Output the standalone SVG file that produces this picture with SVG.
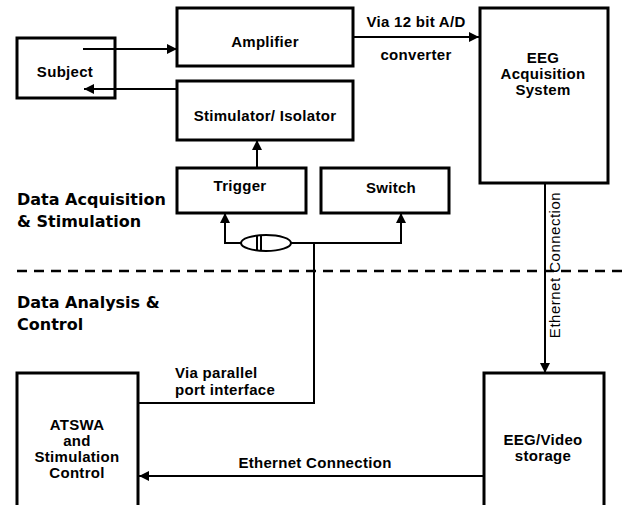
<svg xmlns="http://www.w3.org/2000/svg" width="622" height="505" viewBox="0 0 622 505">
<style>
.box{fill:none;stroke:#000;stroke-width:3}
.ln{fill:none;stroke:#000;stroke-width:2}
.t{font-family:"Liberation Sans",Arial,sans-serif;font-weight:bold;font-size:15px;letter-spacing:0.3px;fill:#000;text-anchor:middle}
.tl{font-family:"Liberation Sans",Arial,sans-serif;font-weight:bold;font-size:15px;letter-spacing:0.3px;fill:#000}
.h{font-family:"DejaVu Sans",Verdana,sans-serif;font-weight:bold;font-size:16px;fill:#000}
</style>
<defs>
<marker id="ar" viewBox="0 0 10 10" refX="10" refY="5" markerWidth="10" markerHeight="10" markerUnits="userSpaceOnUse" orient="auto">
<path d="M0,0 L10,5 L0,10 z" fill="#000"/>
</marker>
</defs>
<rect width="622" height="505" fill="#fff"/>
<g id="connectors">
<line class="ln" x1="83" y1="49" x2="177" y2="49" marker-end="url(#ar)"/>
<line class="ln" x1="177" y1="89" x2="84" y2="89" marker-end="url(#ar)"/>
<line class="ln" x1="353" y1="37" x2="479" y2="37" marker-end="url(#ar)"/>
<line class="ln" x1="257" y1="168" x2="257" y2="140" marker-end="url(#ar)"/>
<polyline class="ln" points="241,243 225,243 225,213" marker-end="url(#ar)"/>
<polyline class="ln" points="291,243 401,243 401,213" marker-end="url(#ar)"/>
<polyline class="ln" points="314,243 314,403 138,403"/>
<ellipse class="ln" cx="266" cy="243" rx="25" ry="8"/>
<line class="ln" x1="257" y1="235" x2="257" y2="251"/>
<line class="ln" x1="261" y1="235" x2="261" y2="251"/>
<line class="ln" x1="545" y1="183" x2="545" y2="373" marker-end="url(#ar)"/>
<line class="ln" x1="484" y1="476" x2="139" y2="476" marker-end="url(#ar)"/>
<line x1="17" y1="271" x2="622" y2="271" stroke="#000" stroke-width="2.5" stroke-dasharray="10 7"/>
<text class="t" x="416" y="27">Via 12 bit A/D</text>
<text class="t" x="416" y="60">converter</text>
<text x="0" y="0" transform="translate(560,265) rotate(-90)" font-family="Liberation Sans,Arial,sans-serif" font-size="15" letter-spacing="0.5" text-anchor="middle">Ethernet Connection</text>
<text class="tl" x="175" y="378">Via parallel</text>
<text class="tl" x="175" y="395">port interface</text>
<text class="t" x="315" y="468">Ethernet Connection</text>
</g>
<g id="subject"><rect class="box" x="17" y="38" width="98" height="60"/><text class="t" x="65" y="77">Subject</text></g>
<g id="amplifier"><rect class="box" x="177" y="8" width="176" height="58"/><text class="t" x="265" y="47">Amplifier</text></g>
<g id="stimulator"><rect class="box" x="177" y="81" width="176" height="59"/><text class="t" x="265" y="121">Stimulator/ Isolator</text></g>
<g id="trigger"><rect class="box" x="177" y="168" width="129" height="45"/><text class="t" x="240" y="191">Trigger</text></g>
<g id="switch"><rect class="box" x="321" y="168" width="128" height="45"/><text class="t" x="391" y="193">Switch</text></g>
<g id="eeg-acq"><rect class="box" x="480" y="8" width="128" height="175"/>
<text class="t" x="543" y="63">EEG</text><text class="t" x="543" y="79">Acquisition</text><text class="t" x="543" y="95">System</text></g>
<g id="atswa"><rect class="box" x="17" y="373" width="121" height="140"/>
<text class="t" x="77" y="430">ATSWA</text><text class="t" x="77" y="446">and</text><text class="t" x="77" y="462">Stimulation</text><text class="t" x="77" y="478">Control</text></g>
<g id="eeg-video"><rect class="box" x="484" y="373" width="120" height="140"/>
<text class="t" x="543" y="445">EEG/Video</text><text class="t" x="543" y="461">storage</text></g>
<g id="labels">
<text class="h" x="17" y="205">Data Acquisition</text>
<text class="h" x="17" y="227">&amp; Stimulation</text>
<text class="h" x="17" y="308">Data Analysis &amp;</text>
<text class="h" x="17" y="330">Control</text>
</g>
</svg>
